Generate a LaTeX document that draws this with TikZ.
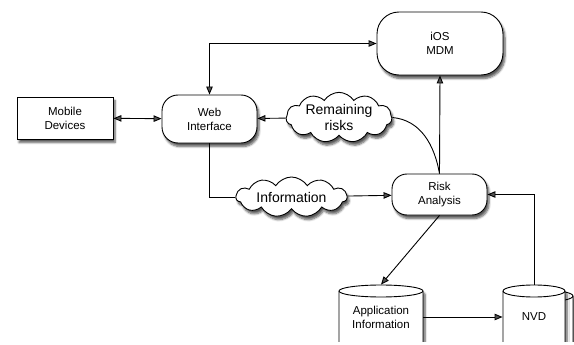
\documentclass[tikz,border=0pt]{standalone}
\usepackage{fontspec}
\setmainfont{Liberation Sans}
\usetikzlibrary{shapes,arrows.meta,shadows.blur}

\tikzset{
	shade/.style={blur shadow={shadow xshift=2pt, shadow yshift=-3.5pt, shadow blur steps=6, shadow opacity=65}},
	box/.style={draw, line width=0.9pt, fill=white, shade, align=center, font=\fontsize{11.5}{14}\selectfont},
	pill/.style={box, rounded corners=16pt, minimum width=95pt},
	puff/.style={box, cloud, cloud puffs=11, cloud puff arc=115, cloud ignores aspect, inner sep=0pt, font=\fontsize{14}{16}\selectfont},
	store/.style={align=center, inner sep=0pt, minimum height=64pt, font=\fontsize{11.5}{14}\selectfont}
}
% cylinder: centre x, centre y, width (64 high)
\newcommand{\drum}[3]{%
	\path[draw, line width=0.9pt, fill=white, shade]
		(#1-#3/2, #2-26) -- (#1-#3/2, #2+26)
		arc[start angle=180, end angle=360, x radius=#3/2*1pt, y radius=6pt]
		-- (#1+#3/2, #2-26)
		arc[start angle=0, end angle=180, x radius=#3/2*1pt, y radius=6pt] -- cycle;
	\draw[line width=0.9pt] (#1-#3/2, #2-26)
		arc[start angle=180, end angle=360, x radius=#3/2*1pt, y radius=6pt];
}

\begin{document}
\begin{tikzpicture}[x=1pt, y=-1pt, >={Triangle[length=8pt,width=6.5pt]}, line width=0.9pt]
	\useasboundingbox (0,0) rectangle (574,345);
	\begin{scope}
		\clip (0,0) rectangle (574,341);
			\node[box, minimum width=96pt, minimum height=42pt] (mobile) at (65,118) {Mobile\\Devices};
			\node[pill, minimum height=48pt] (web) at (209.5,119) {Web\\Interface};
			\node[box, rounded corners=22pt, minimum width=126pt, minimum height=63pt] (mdm) at (440,43.5) {iOS\\MDM};
			\node[pill, rounded corners=15pt, minimum height=41pt] (risk) at (439.5,194.5) {Risk\\Analysis};
			\node[puff, minimum width=106pt, minimum height=41pt] (remain) at (339,117.5) {Remaining\\risks};
			\node[puff, minimum width=111pt, minimum height=40pt] (info) at (291.5,197) {Information};
			\drum{381}{317}{84}
			\drum{542}{322}{62}
			\drum{534}{317}{62}
			\node[store, minimum width=84pt] (app) at (381,317) {Application\\Information};
			\node[store, minimum width=62pt] (nvd) at (534,317) {NVD};

				\draw[<->] (mobile) -- (web);
				\draw[<->] (web.north) |- (mdm.west);
				\draw[->] (remain) -- (web);
				\draw (remain.east) to[out=-5, in=100] (risk.north);
				\draw[->] (risk.north) -- (mdm.south);
				\draw (web.south) |- (info.west);
				\draw[->] (info) -- (risk);
				\draw[->] (risk.south) -- (app.north);
				\draw[->] (app) -- (nvd);
				\draw[->] (nvd.north) |- (risk.east);
	\end{scope}
\end{tikzpicture}
\end{document}
